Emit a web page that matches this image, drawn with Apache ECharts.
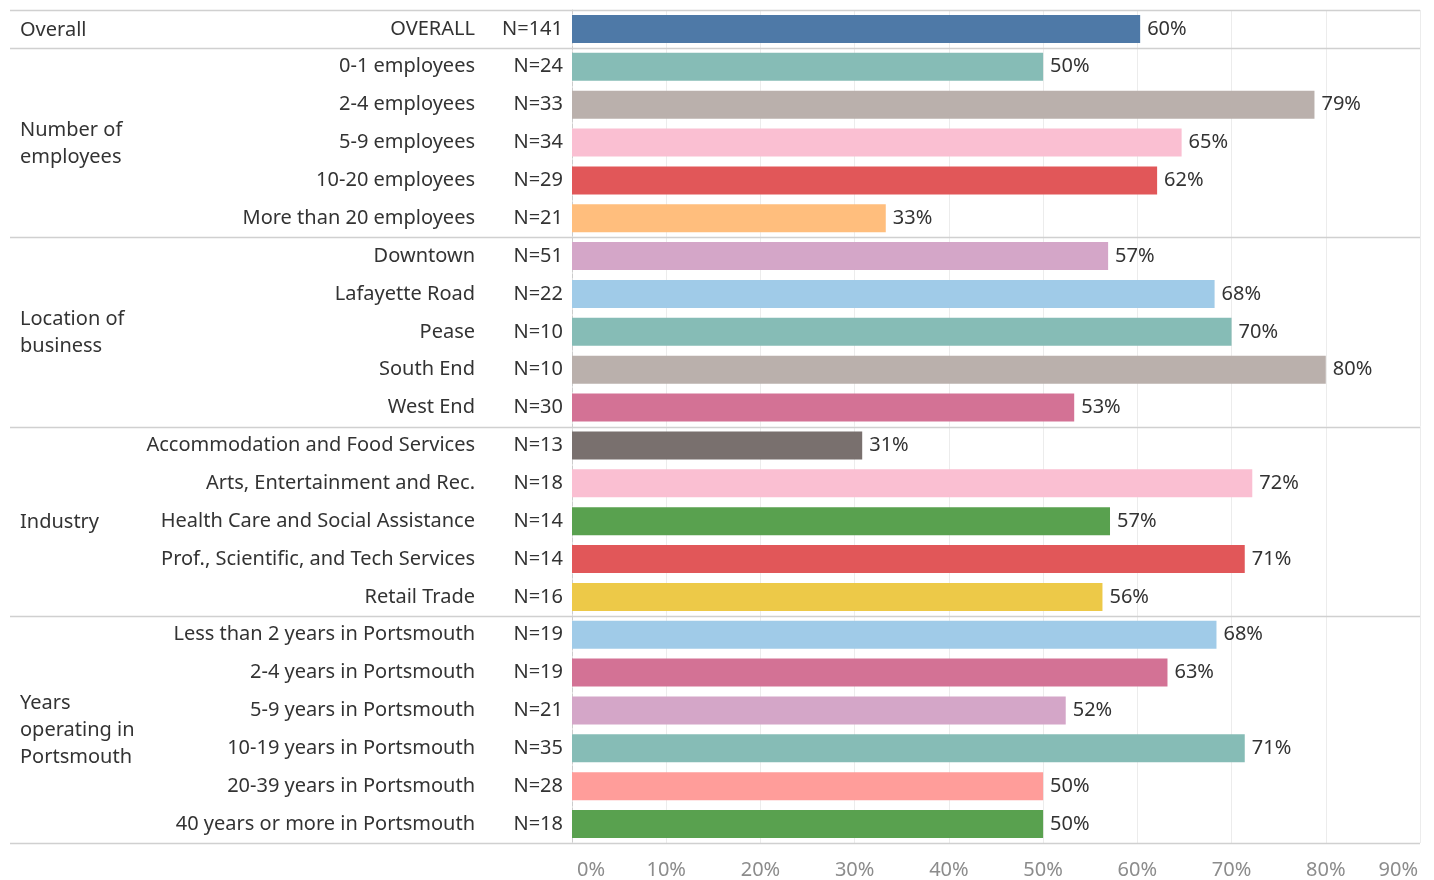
<!DOCTYPE html>
<html><head><meta charset="utf-8">
<script src="https://cdn.jsdelivr.net/npm/echarts@6/dist/echarts.min.js"></script>
<style>html,body{margin:0;padding:0;background:#fff}#c{width:1434px;height:880px}</style>
</head><body><div id="c"></div>
<script>
const categories = ['OVERALL','0-1 employees','2-4 employees','5-9 employees','10-20 employees','More than 20 employees',
 'Downtown','Lafayette Road','Pease','South End','West End',
 'Accommodation and Food Services','Arts, Entertainment and Rec.','Health Care and Social Assistance','Prof., Scientific, and Tech Services','Retail Trade',
 'Less than 2 years in Portsmouth','2-4 years in Portsmouth','5-9 years in Portsmouth','10-19 years in Portsmouth','20-39 years in Portsmouth','40 years or more in Portsmouth'];
const nLabels = ['N=141','N=24','N=33','N=34','N=29','N=21','N=51','N=22','N=10','N=10','N=30','N=13','N=18','N=14','N=14','N=16','N=19','N=19','N=21','N=35','N=28','N=18'];
const values = [60.3,50.0,78.8,64.7,62.1,33.3,56.9,68.2,70.0,80.0,53.3,30.8,72.2,57.1,71.4,56.3,68.4,63.2,52.4,71.4,50.0,50.0];
const colors = ['#4E79A7','#86BCB6','#BAB0AC','#FABFD2','#E15759','#FFBE7D','#D4A6C8','#A0CBE8','#86BCB6','#BAB0AC','#D37295',
 '#79706E','#FABFD2','#59A14F','#E15759','#EDC948','#A0CBE8','#D37295','#D4A6C8','#86BCB6','#FF9D9A','#59A14F'];
const groupNames = ['Overall','Number of\nemployees','Location of\nbusiness','Industry','Years\noperating in\nPortsmouth'];
const groupSizes = [1,5,5,5,6];
const xTicks = [0,10,20,30,40,50,60,70,80,90];

const FONT = '"Noto Sans"';
const FS = 20;
const TXT = '#333333';
const chart = echarts.init(document.getElementById('c'), null, {renderer:'canvas'});
chart.setOption({
  animation:false,
  grid:{left:572, right:14, top:10, bottom:37, containLabel:false},
  xAxis:{type:'value', min:xTicks[0], max:xTicks[xTicks.length-1], interval:10,
    axisLine:{show:false}, axisTick:{show:false},
    splitLine:{show:true, lineStyle:{color:'#ececec', width:1}},
    axisLabel:{formatter:v=>v===xTicks[0]?'{f|'+v+'%}':(v===xTicks[xTicks.length-1]?'{l|'+v+'%}':v+'%'),
      rich:{f:{padding:[0,0,0,5], color:'#8c8c8c', fontFamily:FONT, fontSize:FS}, l:{padding:[0,2,0,0], color:'#8c8c8c', fontFamily:FONT, fontSize:FS}},
      color:'#8c8c8c', fontFamily:FONT, fontSize:FS, margin:17,
      alignMinLabel:'left', alignMaxLabel:'right'}},
  yAxis:[
    {type:'category', data:categories, inverse:true, position:'left',
     axisLine:{show:true, lineStyle:{color:'#cccccc', type:'dashed', width:1}}, axisTick:{show:false},
     axisLabel:{formatter:(v,i)=>nLabels[i], color:TXT, fontFamily:FONT, fontSize:FS, margin:9, padding:[5,0,0,0]}},
    {type:'category', data:categories, inverse:true, position:'left', offset:88,
     axisLine:{show:false}, axisTick:{show:false},
     axisLabel:{color:TXT, fontFamily:FONT, fontSize:FS, margin:9, padding:[5,0,0,0]}}
  ],
  series:[{type:'bar', yAxisIndex:0, barWidth:28,
    data:values.map((v,i)=>({value:v, itemStyle:{color:colors[i]}})),
    label:{show:true, position:'right', distance:7, color:TXT, fontFamily:FONT, fontSize:FS, padding:[5,0,0,0],
      formatter:p=>Math.round(p.value)+'%'}}]
});

function addDecor(){
  const y0 = chart.convertToPixel({yAxisIndex:0}, 0);
  const y1 = chart.convertToPixel({yAxisIndex:0}, 1);
  const band = y1 - y0;
  const xRight = chart.convertToPixel({xAxisIndex:0}, xTicks[xTicks.length-1]);
  const g = [];
  let idx = 0;
  const bounds = [idx];
  groupSizes.forEach(s=>{idx+=s; bounds.push(idx);});
  bounds.forEach(b=>{
    const y = Math.round(y0 - band/2 + b*band) + 0.5;
    g.push({type:'line', shape:{x1:10, y1:y, x2:xRight, y2:y}, style:{stroke:'#d0d0d0', lineWidth:1.5}, z:10});
  });
  groupNames.forEach((name,gi)=>{
    const a = bounds[gi], b = bounds[gi+1]-1;
    const yc = (chart.convertToPixel({yAxisIndex:0}, a) + chart.convertToPixel({yAxisIndex:0}, b))/2 + 1;
    g.push({type:'text', x:20, y:yc, style:{text:name, fill:TXT, font:FS+'px '+FONT, lineHeight:27, verticalAlign:'middle', align:'left'}});
  });
  chart.setOption({graphic:g});
}
addDecor();
</script></body></html>
